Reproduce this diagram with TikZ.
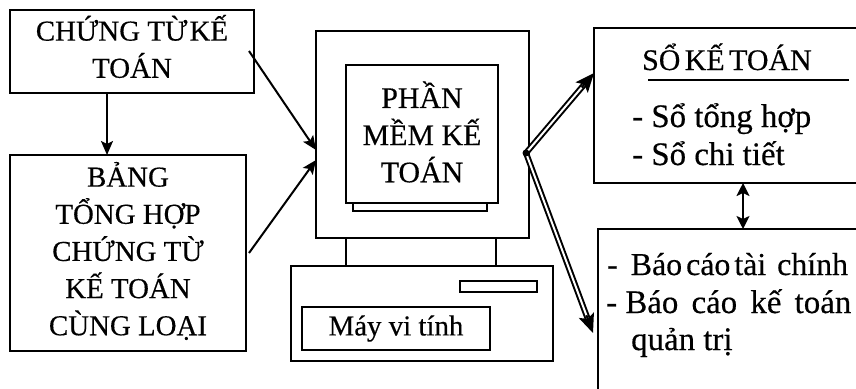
\documentclass[tikz,border=0pt]{standalone}
\usepackage{fontspec}
\setmainfont[FakeBold=0.4]{Liberation Serif}
\usetikzlibrary{arrows.meta,calc}
\tikzset{
  boxshape/.style={draw=black,line width=2bp,rectangle,inner sep=0pt,outer sep=0pt,align=center,
    font=\fontsize{29}{37.3}\selectfont,text=black},
  boxtext/.style={inner sep=0pt,outer sep=0pt,align=center,font=\fontsize{29}{37.3}\selectfont,text=black},
  lbl/.style={anchor=base west,inner sep=0pt,font=\fontsize{33}{37.5}\selectfont,text=black},
  thin arrow/.style={draw=black,line width=2bp,-{Stealth[length=14bp,width=12bp,inset=3bp]}},
  both arrow/.style={draw=black,line width=2bp,{Stealth[length=13bp,width=13bp,inset=3bp]}-{Stealth[length=13bp,width=13bp,inset=3bp]}},
  dbl line/.style={draw=black,line width=2bp,double=white,double distance=2bp,line cap=butt},
  dbl head/.style={draw=black,line width=2bp,-{Stealth[length=19bp,width=16bp,inset=4bp]}},
  plain/.style={draw=black,line width=2bp}
}
\newcommand{\bx}[6]{%
  \pgfmathsetmacro{\cxx}{(#2+#4)/2}\pgfmathsetmacro{\cyy}{(#3+#5)/2}%
  \pgfmathsetmacro{\www}{#4-#2}\pgfmathsetmacro{\hhh}{#5-#3}%
  \node[boxshape,minimum width=\www bp,minimum height=\hhh bp] (#1) at (\cxx,\cyy) {#6};}
\begin{document}
\begin{tikzpicture}[x=1bp,y=-1bp]
\useasboundingbox (0,0) rectangle (856,388);
\clip (0,0) rectangle (856,388);
\bx{ct}{10}{10}{254}{93}{}
\node[boxtext] (ctl) at (132,46.5) {CHỨNG TỪ\hspace{-5bp} KẾ\\TOÁN};
\bx{bang}{10}{155}{246}{351}{}
\node[boxtext] (bangl) at (128,251) {BẢNG\\TỔNG HỢP\\CHỨNG TỪ\\KẾ TOÁN\\CÙNG LOẠI};
\bx{monitor}{316}{31}{529}{238}{}
\bx{stand}{353}{203}{487}{211}{}
\bx{screen}{346}{65}{498}{203}{}
\node[boxtext,font=\fontsize{30}{37.3}\selectfont] (screenl) at (422,132) {PHẦN\\MỀM KẾ\\TOÁN};
\bx{base}{291}{266}{553}{361}{}
\bx{slot}{460}{281}{537}{292}{}
\bx{may}{302}{307}{490}{350}{Máy vi tính}
\bx{so}{594}{28}{870}{183}{}
\bx{bc}{598}{229}{870}{400}{}
\coordinate (neckLa) at (346,238);
\coordinate (neckLb) at (346,266);
\coordinate (neckRa) at (496,238);
\coordinate (neckRb) at (496,266);
\draw[plain] (neckLa) -- (neckLb);
\draw[plain] (neckRa) -- (neckRb);
\node[lbl,font=\fontsize{30}{37.5}\selectfont] (t1) at (642,70) {SỔ\hspace{-3bp} KẾ\hspace{-3bp} TOÁN};
\coordinate (ulA) at (648,80);
\coordinate (ulB) at (849,80);
\draw[plain] (ulA) -- (ulB);
\node[lbl] (t2) at (632,127) {- Sổ tổng hợp};
\node[lbl] (t3) at (632,165) {- Sổ chi tiết};
\node[lbl,font=\fontsize{32}{37.5}\selectfont] (t4) at (607,275) {-\hspace{13bp}Báo\hspace{-4bp} cáo\hspace{-4bp} tài\hspace{3bp} chính};
\node[lbl] (t5) at (606,313) {- Báo\hspace{5bp} cáo\hspace{5bp} kế\hspace{5bp} toán};
\node[lbl] (t6) at (631,350) {quản trị};
\coordinate (ctA) at (249,51);
\coordinate (inA) at (316,150);
\coordinate (bangA) at (249,253);
\coordinate (inB) at (316,160);
\coordinate (ctB) at (107,93);
\coordinate (bangB) at (107,155);
\coordinate (outO) at (526,153);
\coordinate (soIn) at (594,73);
\coordinate (bcIn) at (593,333);
\coordinate (soB) at (743,183);
\coordinate (bcT) at (743,229);
\draw[thin arrow] (ctA) -- (inA);
\draw[thin arrow] (bangA) -- (inB);
\draw[thin arrow] (ctB) -- (bangB);
\draw[dbl line,shorten >=12bp] (outO) -- (soIn);
\draw[dbl line,shorten >=12bp] (outO) -- (bcIn);
\draw[dbl head] ($(soIn)!19bp!(outO)$) -- (soIn);
\draw[dbl head] ($(bcIn)!19bp!(outO)$) -- (bcIn);
\fill[black] (outO) circle (3.5bp);
\draw[both arrow] (soB) -- (bcT);
\end{tikzpicture}
\end{document}
